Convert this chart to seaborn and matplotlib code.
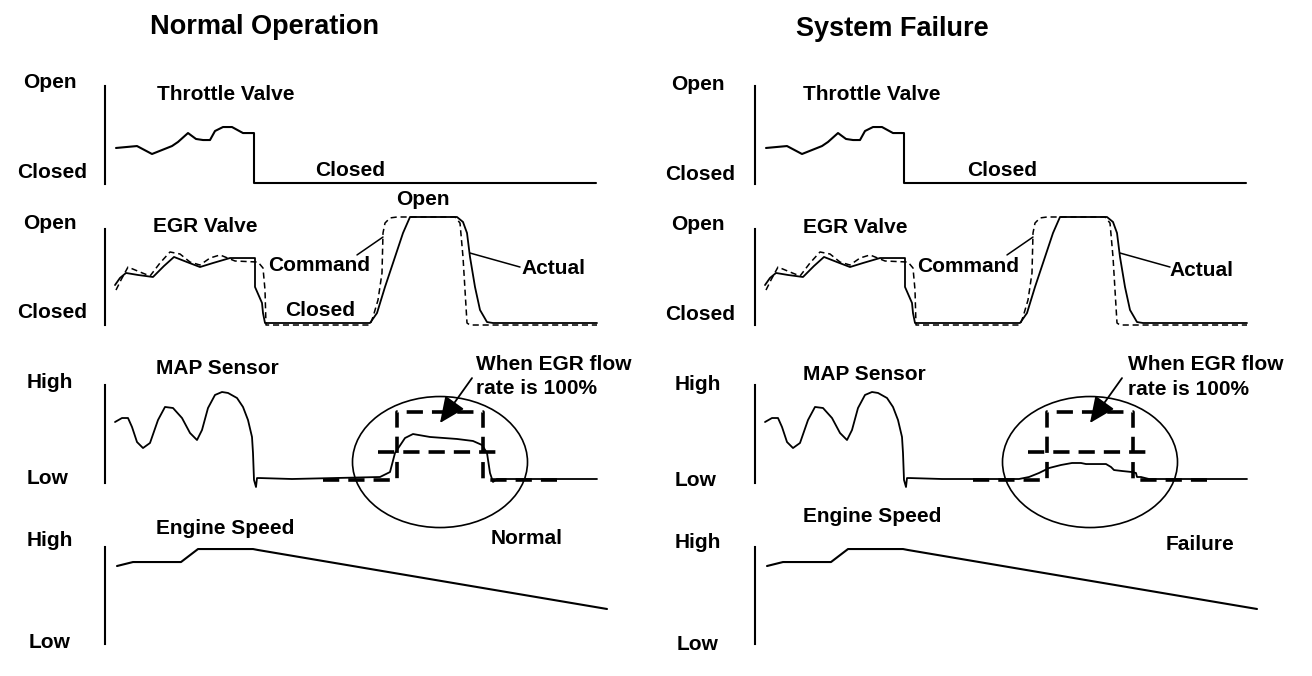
import matplotlib
matplotlib.use("Agg")
import matplotlib.pyplot as plt
from matplotlib.patches import Ellipse
import pandas as pd
import seaborn as sns

# time in tenths of the panel (0 = the vertical axis line),
# level in % (0 = Closed / Low, 100 = Open / High)
throttle_t = [1.1, 3.2, 4.7, 6.7, 7.3, 8.3, 9.1, 9.8, 10.5, 11.0, 11.8, 12.7, 13.8, 14.9, 14.9, 49.1]
throttle_lvl = [36.1, 38.1, 29.9, 38.1, 42.3, 51.5, 45.4, 44.3, 44.3, 53.6, 57.7, 57.7, 51.5, 51.5, 0, 0]

egr_actual_t = [1.0, 1.5, 2.1, 3.3, 4.8, 5.9, 6.9, 8.2, 9.5, 10.8, 12.5, 15.0, 15.0, 15.7, 15.8, 16.0,
                26.5, 27.2, 28.0, 28.8, 29.8, 30.5, 35.2, 35.8, 36.2, 36.5, 37.0, 37.5, 38.2, 38.8, 49.2]
egr_actual_lvl = [35.8, 42.5, 47.2, 45.3, 43.4, 53.8, 62.3, 57.5, 52.8, 56.6, 61.3, 61.3, 34.0, 18.9, 9.4, 0,
                  0, 9.4, 34.0, 56.6, 84.9, 100, 100, 95.3, 84.9, 62.3, 34.0, 12.3, 0.9, 0, 0]

egr_command_t = [1.1, 1.6, 2.3, 3.5, 4.5, 5.5, 6.5, 7.5, 8.5, 9.5, 10.5, 11.5, 13.0, 15.3, 15.8, 16.0, 16.1,
                 26.5, 26.8, 27.3, 27.7, 27.8, 28.0, 28.5, 29.2, 35.0, 35.5, 35.8, 36.2, 36.5, 49.2]
egr_command_lvl = [31.1, 40.6, 52.8, 48.1, 44.3, 56.6, 67.0, 65.1, 57.5, 54.7, 61.3, 64.2, 58.5, 57.5, 51.9, 31.1, -1.9,
                   -1.9, 5.7, 21.7, 47.2, 84.9, 94.3, 99.1, 100, 100, 94.3, 62.3, 0, -1.9, -1.9]

map_normal_t = [1.0, 1.7, 2.3, 2.7, 3.2, 3.8, 4.5, 5.3, 6.0, 6.8, 7.7, 8.5, 9.2, 9.7, 10.3, 11.0, 11.7, 12.3,
                13.2, 13.8, 14.3, 14.7, 14.8, 14.9, 15.1, 15.2, 15.5, 18.7, 27.5, 28.5, 29.0, 30.0, 30.8,
                32.5, 35.2, 36.8, 37.7, 38.2, 38.5, 38.8, 39.2, 49.2]
map_normal_lvl = [65.5, 70.1, 70.1, 59.8, 42.5, 35.6, 41.4, 67.8, 82.8, 81.6, 70.1, 52.9, 44.8, 56.3, 81.6, 96.6,
                  100, 98.9, 93.1, 82.8, 67.8, 48.3, 29.9, -1.1, -9.2, 1.1, 1.1, 0, 2.3, 8.0, 29.9, 47.1, 51.7,
                  48.3, 46.0, 43.7, 39.1, 29.9, 6.9, -3.4, 0, 0]

map_failure_t = [1.0, 1.7, 2.3, 2.7, 3.2, 3.8, 4.5, 5.3, 6.0, 6.8, 7.7, 8.5, 9.2, 9.7, 10.3, 11.0, 11.7, 12.3,
                 13.2, 13.8, 14.3, 14.7, 14.8, 14.9, 15.1, 15.2, 15.5, 18.7, 26.4, 27.4, 28.4, 29.4, 30.6,
                 31.7, 32.6, 33.1, 35.1, 35.6, 35.9, 36.7, 37.7, 38.1, 38.2, 38.6, 39.4, 49.2]
map_failure_lvl = [65.5, 70.1, 70.1, 59.8, 42.5, 35.6, 41.4, 67.8, 82.8, 81.6, 70.1, 52.9, 44.8, 56.3, 81.6, 96.6,
                   100, 98.9, 93.1, 82.8, 67.8, 48.3, 29.9, -1.1, -9.2, 1.1, 1.1, 0, 0, 2.3, 6.9, 12.6, 16.1,
                   18.4, 18.4, 17.2, 17.2, 13.8, 10.3, 9.2, 8.0, 6.9, 2.3, 2.3, 0, 0]

# expected MAP when EGR flow is 100% (thick dashed step + crossbar)
map_ref_t = [21.8, 29.2, 29.2, 37.8, 37.8, 45.2]
map_ref_lvl = [-1.1, -1.1, 77.0, 77.0, -1.1, -1.1]
map_mid_t = [27.3, 39.8]
map_mid_lvl = [31.0, 31.0]

engine_t = [1.2, 2.8, 7.6, 9.3, 14.8, 15.3, 50.2]
engine_lvl = [80.4, 84.5, 84.5, 97.9, 97.9, 96.9, 36.1]

W, H = 1312, 676
sns.set_style("white")
plt.rcParams["font.family"] = ["Liberation Sans", "DejaVu Sans"]
plt.rcParams["text.color"] = "black"
fig = plt.figure(figsize=(W / 100, H / 100), dpi=100)


def px_text(x, y, s, size=15, ha="center"):
    fig.text(x / W, 1 - y / H, s, ha=ha, va="center", fontsize=size, fontweight="bold", color="black")


def row_axes(x_axis, y0, y1, base, top, sp0, sp1):
    # x_axis = pixel of the vertical line, base/top = pixels of level 0 / 100
    ax = fig.add_axes([(x_axis - 105) / W, 1 - y1 / H, 656 / W, (y1 - y0) / H])
    ax.set_facecolor("none")
    lvl = lambda p: (base - p) / (base - top) * 100
    ax.set_xlim(-10.5, 55.1)
    ax.set_ylim(lvl(y1), lvl(y0))
    for s in ["top", "right", "bottom"]:
        ax.spines[s].set_visible(False)
    ax.spines["left"].set_position(("data", 0))
    ax.spines["left"].set_bounds(lvl(sp1), lvl(sp0))
    ax.spines["left"].set_linewidth(1.5)
    ax.spines["left"].set_color("black")
    ax.set_xticks([])
    ax.set_yticks([])
    return ax


def line(ax, t, lvl, lw=1.3, ls="-"):
    df = pd.DataFrame({"t": t, "lvl": lvl})
    sns.lineplot(data=df, x="t", y="lvl", estimator=None, sort=False, color="black",
                 lw=lw, linestyle=ls, ax=ax)
    ax.set_xlabel("")
    ax.set_ylabel("")


panels = [(105, map_normal_t, map_normal_lvl), (755, map_failure_t, map_failure_lvl)]
for x_axis, mt, ml in panels:
    ax1 = row_axes(x_axis, 55, 200, 183, 86, 86, 184)
    line(ax1, throttle_t, throttle_lvl, lw=1.5)

    ax2 = row_axes(x_axis, 195, 340, 323, 217, 229, 325)
    line(ax2, egr_command_t, egr_command_lvl, lw=1.1, ls=(0, (4, 2.5)))
    line(ax2, egr_actual_t, egr_actual_lvl, lw=1.3)
    ax2.annotate("", xy=(27.8, 81.1), xytext=(25.2, 64.2),
                 arrowprops=dict(arrowstyle="-", lw=1.1, color="black", shrinkA=0, shrinkB=0))
    ax2.annotate("", xy=(36.5, 66.0), xytext=(41.5, 52.8),
                 arrowprops=dict(arrowstyle="-", lw=1.1, color="black", shrinkA=0, shrinkB=0))

    ax3 = row_axes(x_axis, 340, 545, 479, 392, 385, 483)
    line(ax3, mt, ml, lw=1.3)
    line(ax3, map_ref_t, map_ref_lvl, lw=2.6, ls=(0, (4.5, 2.5)))
    line(ax3, map_mid_t, map_mid_lvl, lw=2.6, ls=(0, (4.5, 2.5)))
    ax3.add_patch(Ellipse((33.5, 19.5), 17.5, 150.6, fill=False, lw=1.2, ec="black"))
    ax3.annotate("", xy=(33.5, 64.4), xytext=(36.7, 116),
                 arrowprops=dict(arrowstyle="-|>,head_length=1.0,head_width=0.45", mutation_scale=16,
                                 lw=1.3, color="black", shrinkA=0, shrinkB=0))

    ax4 = row_axes(x_axis, 500, 670, 644, 547, 547, 644)
    line(ax4, engine_t, engine_lvl, lw=1.5)

# titles and labels
px_text(265, 27, "Normal Operation", size=19.5)
px_text(892, 29, "System Failure", size=19.5)

for dx, dy in [(0, 0), (648, 2)]:
    px_text(50 + dx, 82 + dy, "Open")
    px_text(52 + dx, 172 + dy, "Closed")
    px_text(50 + dx, 223 + dy, "Open")
    px_text(52 + dx, 313 + dy, "Closed")
    px_text(50 + dx, 382 + dy, "High")
    px_text(48 + dx, 479 + dy, "Low")
    px_text(50 + dx, 540 + dy, "High")
    px_text(50 + dx, 643 + dy, "Low")

px_text(226, 94, "Throttle Valve")
px_text(350, 170, "Closed")
px_text(205, 227, "EGR Valve")
px_text(423, 200, "Open")
px_text(319, 265, "Command")
px_text(320, 310, "Closed")
px_text(553, 269, "Actual")
px_text(217, 368, "MAP Sensor")
px_text(476, 364, "When EGR flow", ha="left")
px_text(476, 388, "rate is 100%", ha="left")
px_text(225, 528, "Engine Speed")
px_text(527, 538, "Normal")

px_text(872, 95, "Throttle Valve")
px_text(1002, 170, "Closed")
px_text(855, 228, "EGR Valve")
px_text(968, 267, "Command")
px_text(1201, 271, "Actual")
px_text(864, 375, "MAP Sensor")
px_text(1128, 365, "When EGR flow", ha="left")
px_text(1128, 390, "rate is 100%", ha="left")
px_text(872, 517, "Engine Speed")
px_text(1200, 545, "Failure")

fig.savefig("out.png", dpi=100, facecolor="white")
